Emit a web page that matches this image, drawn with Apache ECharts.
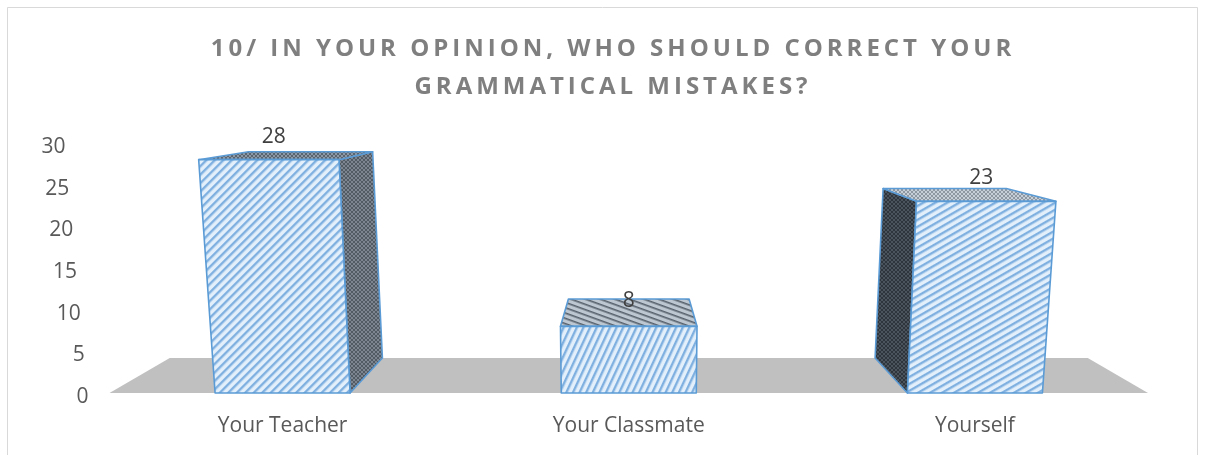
<!DOCTYPE html>
<html>
<head>
<meta charset="utf-8">
<script src="https://cdn.jsdelivr.net/npm/echarts@6/dist/echarts.min.js"></script>
<style>
html,body{margin:0;padding:0;background:#fff;}
#main{width:1205px;height:455px;}
</style>
</head>
<body>
<div id="main"></div>
<script>
var categories = ['Your Teacher', 'Your Classmate', 'Yourself'];
var answers = [28, 8, 23];
var yTicks = [0, 5, 10, 15, 20, 25, 30];
var titleLines = ['10/ IN YOUR OPINION, WHO SHOULD CORRECT YOUR', 'GRAMMATICAL MISTAKES?'];

// fake 3d (excel style perspective)
var LEAN = 0.00017;    // bars get wider the higher you go
var DEPTH = 0.116;     // back face shrinks toward the vanishing point
var VP_VALUE = 36.2;   // vanishing point height, in axis units
var BAR_RATIO = 0.39;

function tile(w, h, draw) {
	var c = document.createElement('canvas');
	c.width = w; c.height = h;
	draw(c.getContext('2d'), w, h);
	return c;
}
function stripes(bg, fg, gap, lw, angle) {
	var c = tile(8, gap, function (ctx, w, h) {
		ctx.fillStyle = bg; ctx.fillRect(0, 0, w, h);
		ctx.fillStyle = fg; ctx.fillRect(0, 0, w, lw);
	});
	return {image: c, repeat: 'repeat', rotation: -angle * Math.PI / 180};
}
function hatch(bg, fg) {
	var c = tile(4, 4, function (ctx, w, h) {
		ctx.fillStyle = bg; ctx.fillRect(0, 0, w, h);
		ctx.fillStyle = fg;
		ctx.fillRect(0, 0, 1, 1); ctx.fillRect(1, 1, 1, 1); ctx.fillRect(2, 2, 1, 1); ctx.fillRect(3, 3, 1, 1);
		ctx.fillRect(3, 0, 1, 1); ctx.fillRect(2, 1, 1, 1); ctx.fillRect(1, 2, 1, 1); ctx.fillRect(0, 3, 1, 1);
	});
	return {image: c, repeat: 'repeat'};
}

var frontFill = [
	stripes('#e3f0fb', '#7fb0e0', 6, 2.4, 45),
	stripes('#e3f0fb', '#7fb0e0', 6, 2.4, 65),
	stripes('#e3f0fb', '#7fb0e0', 6, 2.4, 30)
];
var topFill = [
	hatch('#8c98a5', '#5a6570'),
	stripes('#bcc7d2', '#56616d', 5, 1.6, -20),
	hatch('#c6cfd8', '#8d98a3')
];
var sideFill = [
	hatch('#7d8690', '#525a63'),
	hatch('#7d8690', '#525a63'),
	hatch('#4b535c', '#2e353c')
];

function projector(api) {
	var base = api.coord([0, 0]);
	var vp = api.coord([1, VP_VALUE]);
	return function (x, y, d) {
		var h = base[1] - y;
		var xf = vp[0] + (x - vp[0]) * (1 + LEAN * h);
		var f = 1 - DEPTH * d;
		return [vp[0] + (xf - vp[0]) * f, vp[1] + (y - vp[1]) * f];
	};
}

var edge = {stroke: '#5b9bd5', lineWidth: 1.6, lineJoin: 'round'};
function face(pts, fill) {
	return {type: 'polygon', shape: {points: pts}, style: Object.assign({fill: fill}, edge)};
}

function renderFloor(params, api) {
	var p = projector(api);
	var slot = api.size([1, 0])[0];
	var y0 = api.coord([0, 0])[1];
	var left = api.coord([0, 0])[0] - slot / 2;
	var right = api.coord([categories.length - 1, 0])[0] + slot / 2;
	return {
		type: 'polygon',
		shape: {points: [p(left, y0, 0), p(right, y0, 0), p(right, y0, 1), p(left, y0, 1)]},
		style: {fill: '#c0c0c0'}
	};
}

function renderBar(params, api) {
	var i = api.value(0), v = api.value(1);
	var p = projector(api);
	var base = api.coord([i, 0]);
	var top = api.coord([i, v]);
	var vpx = api.coord([1, 0])[0];
	var half = api.size([1, 0])[0] * BAR_RATIO / 2;
	var xl = base[0] - half, xr = base[0] + half, yb = base[1], yt = top[1];

	var fbl = p(xl, yb, 0), fbr = p(xr, yb, 0), ftl = p(xl, yt, 0), ftr = p(xr, yt, 0);
	var bbl = p(xl, yb, 1), bbr = p(xr, yb, 1), btl = p(xl, yt, 1), btr = p(xr, yt, 1);

	var kids = [];
	if (xr < vpx - 1) kids.push(face([fbr, ftr, btr, bbr], sideFill[i]));
	if (xl > vpx + 1) kids.push(face([fbl, ftl, btl, bbl], sideFill[i]));
	kids.push(face([ftl, ftr, btr, btl], topFill[i]));
	kids.push(face([fbl, fbr, ftr, ftl], frontFill[i]));

	var lp = p(base[0], yt, 0.12);
	kids.push({
		type: 'text',
		style: {
			text: String(v), x: lp[0], y: lp[1] - 22,
			align: 'center', verticalAlign: 'middle',
			font: '21px "Open Sans"', fill: '#404040'
		}
	});
	return {type: 'group', children: kids};
}

// y labels lean outwards with height, like the rest of the picture
var yRich = {};
yTicks.forEach(function (t) {
	yRich['t' + t] = {padding: [8, (628 - 88) * LEAN * t * 250 / 30, 0, 0], fontSize: 21, fontFamily: 'Open Sans', color: '#595959'};
});

function spaced(s) {
	return s.split('').join('\u2009');
}

var myChart = echarts.init(document.getElementById('main'));
var option = {
	animation: false,
	backgroundColor: '#fff',
	title: {
		text: titleLines.map(spaced).join('\n'),
		left: 611,
		top: 30,
		textAlign: 'center',
		padding: 0,
		textStyle: {
			fontFamily: 'Open Sans',
			fontSize: 24,
			fontWeight: 'bold',
			color: '#7f7f7f',
			lineHeight: 38
		}
	},
	graphic: [{
		type: 'rect',
		shape: {x: 7.5, y: 7.5, width: 1190, height: 470},
		style: {fill: 'none', stroke: '#d9d9d9', lineWidth: 1},
		silent: true
	}],
	grid: {left: 109.5, right: 57, top: 143, bottom: 62, outerBoundsMode: 'none'},
	xAxis: {
		type: 'category',
		data: categories,
		axisLine: {show: false},
		axisTick: {show: false},
		axisLabel: {fontSize: 21, fontFamily: 'Open Sans', color: '#595959', margin: 23}
	},
	yAxis: {
		type: 'value',
		min: 0,
		max: 30,
		interval: 5,
		axisLine: {show: false},
		axisTick: {show: false},
		splitLine: {show: false},
		axisLabel: {
			margin: 21,
			formatter: function (v) { return '{t' + v + '|' + v + '}'; },
			rich: yRich
		}
	},
	series: [
		{
			type: 'custom',
			name: 'floor',
			renderItem: renderFloor,
			data: [[0, 0]],
			encode: {x: 0, y: 1},
			silent: true,
			z: 1
		},
		{
			type: 'custom',
			name: 'answers',
			renderItem: renderBar,
			data: categories.map(function (c, i) { return [i, answers[i]]; }),
			encode: {x: 0, y: 1},
			z: 2
		}
	]
};
myChart.setOption(option);
</script>
</body>
</html>
